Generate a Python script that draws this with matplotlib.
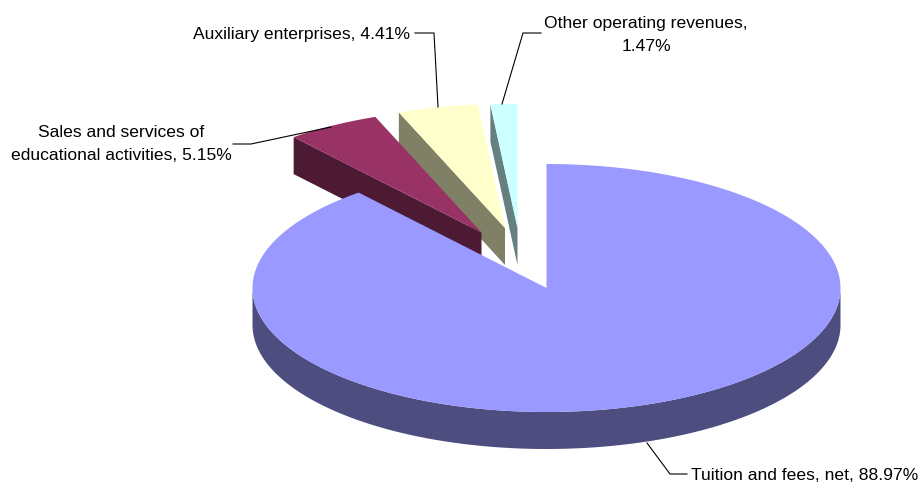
import numpy as np
import matplotlib

matplotlib.use('Agg')
import matplotlib.pyplot as plt

# revenue shares, clockwise from 12 o'clock
categories = ['Tuition and fees, net', 'Sales and services of\neducational activities',
              'Auxiliary enterprises', 'Other operating revenues,\n']
shares = [88.97, 5.15, 4.41, 1.47]
top_colors = ['#9999FF', '#993366', '#FFFFCC', '#CCFFFF']
dark_colors = ['#4D4D80', '#4D1A33', '#808066', '#668080']

# apex of each wedge, in pixels
apexes = [(546.5, 288), (481.5, 232.5), (505, 228), (517.5, 228)]
RX, RY = 294, 124
DEPTH = 37

plt.rcParams['font.family'] = ['Liberation Sans', 'DejaVu Sans']

fig = plt.figure(figsize=(9.18, 4.82), dpi=100)
ax = fig.add_axes([0, 0, 1, 1])
ax.set_xlim(0, 918)
ax.set_ylim(482, 0)
ax.axis('off')


def arc(apex, start, end):
    t = np.radians(np.linspace(start, end, 240))
    return apex[0] + RX * np.sin(t), apex[1] - RY * np.cos(t)


edges = np.concatenate([[0], np.cumsum(shares)]) * 3.6

# back wedges first so the nearer ones cover them
for i in [3, 2, 1]:
    apex = apexes[i]
    x, y = arc(apex, edges[i], edges[i + 1])
    # radial face on the leading edge of the wedge
    ax.fill([x[0], apex[0], apex[0], x[0]],
            [y[0], apex[1], apex[1] + DEPTH, y[0] + DEPTH],
            color=dark_colors[i], lw=0)
    ax.fill(np.r_[apex[0], x], np.r_[apex[1], y], color=top_colors[i], lw=0)

# big wedge: rim along the near half, then the top surface
apex = apexes[0]
x, y = arc(apex, 90, 270)
ax.fill(np.r_[x, x[::-1]], np.r_[y, y[::-1] + DEPTH], color=dark_colors[0], lw=0)
x, y = arc(apex, edges[0], edges[1])
ax.fill(np.r_[apex[0], x], np.r_[apex[1], y], color=top_colors[0], lw=0)

# leader lines
ax.plot([647, 670, 687], [443, 474, 474], color='black', lw=0.8)
ax.plot([233, 251, 331], [144, 144, 127], color='black', lw=0.8)
ax.plot([415, 434, 438], [33, 33, 107], color='black', lw=0.8)
ax.plot([541, 523, 502], [33, 33, 104], color='black', lw=0.8)

# data labels
fs = 12.6
ax.text(691, 475, f'{categories[0]}, {shares[0]:.2f}%', fontsize=fs, ha='left', va='center')
ax.text(121, 144, f'{categories[1]}, {shares[1]:.2f}%', fontsize=fs, ha='center', va='center',
        linespacing=1.6)
ax.text(193, 34, f'{categories[2]}, {shares[2]:.2f}%', fontsize=fs, ha='left', va='center')
ax.text(646, 35, f'{categories[3]}{shares[3]:.2f}%', fontsize=fs, ha='center', va='center',
        linespacing=1.7)

fig.savefig('out.png', dpi=100, facecolor='white')
